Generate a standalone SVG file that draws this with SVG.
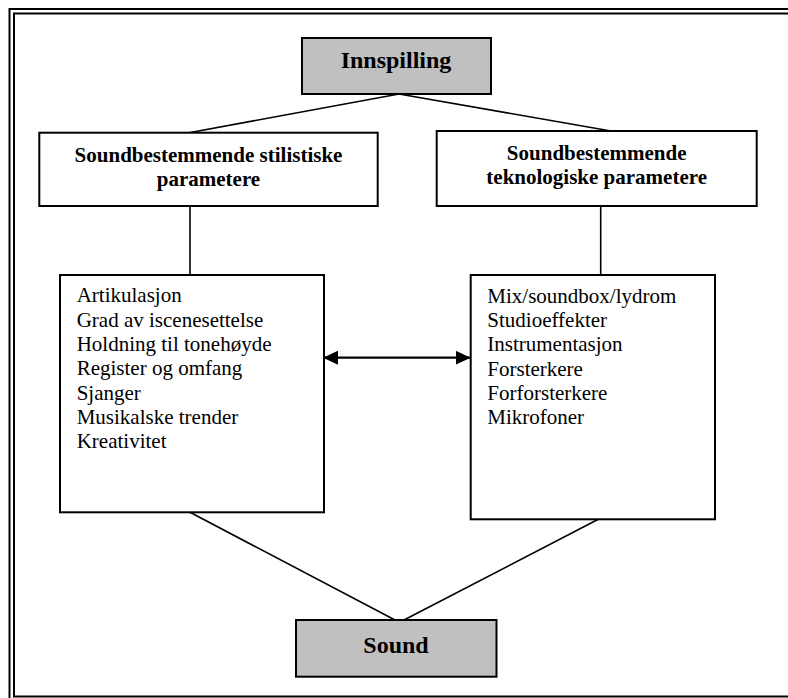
<svg xmlns="http://www.w3.org/2000/svg" width="788" height="698" viewBox="0 0 788 698">
<style>
.box{fill:#ffffff;stroke:#000000;stroke-width:2}
.grey{fill:#c0c0c0;stroke:#000000;stroke-width:2}
.edge{stroke:#000000;stroke-width:1.6;fill:none}
.frame{fill:none;stroke:#000000;stroke-width:2}
.title{font-weight:bold;font-size:24px;text-anchor:middle}
.head{font-weight:bold;font-size:21px;text-anchor:middle}
.item{font-size:21px}
</style>
<defs>
<marker id="ah" viewBox="0 0 15 14" refX="15" refY="7" markerWidth="15" markerHeight="14" markerUnits="userSpaceOnUse" orient="auto-start-reverse">
<path d="M0,0 L15,7 L0,14 Z" fill="#000"/>
</marker>
</defs>
<rect width="788" height="698" fill="#ffffff"/>
<g id="frame">
<rect class="frame" x="9.5" y="9" width="790" height="700"/>
<rect class="frame" x="14" y="13.5" width="780" height="683"/>
</g>
<g id="connectors">
<line class="edge" x1="399" y1="94" x2="189" y2="132.7"/>
<line class="edge" x1="399" y1="94" x2="611" y2="131"/>
<line class="edge" x1="190" y1="206" x2="190" y2="275"/>
<line class="edge" x1="600.7" y1="206" x2="600.7" y2="275"/>
<line class="edge" x1="190" y1="512.3" x2="395" y2="620"/>
<line class="edge" x1="598.3" y1="519.3" x2="404" y2="620"/>
<line x1="323" y1="357.7" x2="470.7" y2="357.7" stroke="#000" stroke-width="2.2" marker-start="url(#ah)" marker-end="url(#ah)"/>
</g>
<g id="innspilling" font-family="Liberation Serif">
<rect class="grey" x="302" y="38" width="189" height="56"/>
<text class="title" x="396" y="68.3" font-family="Liberation Serif">Innspilling</text>
</g>
<g id="stilistiske" font-family="Liberation Serif">
<rect class="box" x="39.3" y="132.7" width="338.4" height="73.3"/>
<text class="head" x="208.5" y="162.3" font-family="Liberation Serif">Soundbestemmende stilistiske</text>
<text class="head" x="208.5" y="185.7" font-family="Liberation Serif">parametere</text>
</g>
<g id="teknologiske" font-family="Liberation Serif">
<rect class="box" x="436.7" y="131" width="320" height="75"/>
<text class="head" x="596.7" y="160" font-family="Liberation Serif">Soundbestemmende</text>
<text class="head" x="596.7" y="184" font-family="Liberation Serif">teknologiske parametere</text>
</g>
<g id="stil-list" font-family="Liberation Serif">
<rect class="box" x="60" y="275" width="264" height="237.3"/>
<text class="item" x="76.7" y="302.3" font-family="Liberation Serif">Artikulasjon</text>
<text class="item" x="76.7" y="326.7" font-family="Liberation Serif">Grad av iscenesettelse</text>
<text class="item" x="76.7" y="351" font-family="Liberation Serif">Holdning til tonehøyde</text>
<text class="item" x="76.7" y="375.3" font-family="Liberation Serif">Register og omfang</text>
<text class="item" x="76.7" y="399.6" font-family="Liberation Serif">Sjanger</text>
<text class="item" x="76.7" y="423.9" font-family="Liberation Serif">Musikalske trender</text>
<text class="item" x="76.7" y="448.2" font-family="Liberation Serif">Kreativitet</text>
</g>
<g id="tek-list" font-family="Liberation Serif">
<rect class="box" x="470.7" y="275" width="244.3" height="244.3"/>
<text class="item" x="487.3" y="302.7" font-family="Liberation Serif">Mix/soundbox/lydrom</text>
<text class="item" x="487.3" y="327" font-family="Liberation Serif">Studioeffekter</text>
<text class="item" x="487.3" y="351.3" font-family="Liberation Serif">Instrumentasjon</text>
<text class="item" x="487.3" y="375.6" font-family="Liberation Serif">Forsterkere</text>
<text class="item" x="487.3" y="399.9" font-family="Liberation Serif">Forforsterkere</text>
<text class="item" x="487.3" y="424.2" font-family="Liberation Serif">Mikrofoner</text>
</g>
<g id="sound" font-family="Liberation Serif">
<rect class="grey" x="296" y="620" width="200.5" height="56.7"/>
<text class="title" x="396" y="652.7" font-family="Liberation Serif">Sound</text>
</g>
</svg>
